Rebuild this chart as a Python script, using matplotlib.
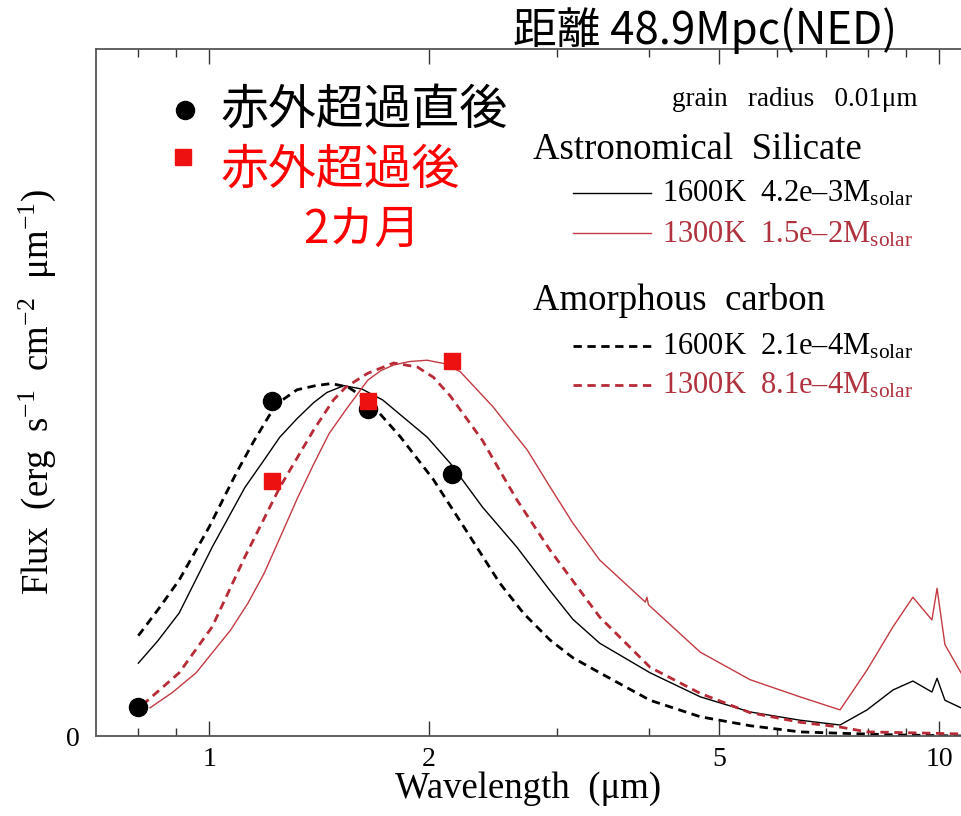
import matplotlib
matplotlib.use("Agg")
import matplotlib.pyplot as plt
from matplotlib.lines import Line2D
from matplotlib.ticker import FixedLocator, NullFormatter, FixedFormatter

plt.rcParams['font.family'] = ['Liberation Serif', 'DejaVu Sans']
plt.rcParams['mathtext.fontset'] = 'custom'
plt.rcParams['mathtext.rm'] = 'Liberation Serif'
plt.rcParams['mathtext.it'] = 'Liberation Serif:italic'

# ---- model curves (wavelength in micron, flux in arbitrary units) ----
wl_c1600 = [0.80, 0.85, 0.91, 1.00, 1.09, 1.15, 1.21, 1.26, 1.32, 1.40, 1.47, 1.55, 1.65,
            1.83, 2.03, 2.26, 2.50, 2.70, 2.93, 3.15, 3.43, 4.02, 4.71, 5.51, 6.45, 7.32,
            8.84, 10.72]
f_c1600 = [1.46, 1.83, 2.27, 3.04, 3.83, 4.28, 4.67, 4.89, 5.04, 5.10, 5.13, 5.08, 4.89,
           4.35, 3.73, 2.96, 2.23, 1.78, 1.40, 1.14, 0.92, 0.52, 0.28, 0.15, 0.06, 0.04,
           0.015, 0.0]

wl_s1600 = [0.80, 0.85, 0.91, 1.01, 1.12, 1.19, 1.25, 1.32, 1.39, 1.45, 1.53, 1.62, 1.73,
            1.99, 2.14, 2.37, 2.64, 2.93, 3.15, 3.43, 4.02, 4.71, 5.51, 6.45, 7.32, 7.97,
            8.65, 9.21, 9.78, 9.94, 10.19, 10.72]
f_s1600 = [1.06, 1.38, 1.79, 2.75, 3.62, 4.02, 4.35, 4.62, 4.85, 5.00, 5.10, 5.05, 4.89,
           4.35, 3.97, 3.33, 2.75, 2.12, 1.70, 1.35, 0.92, 0.57, 0.35, 0.23, 0.16, 0.38,
           0.67, 0.80, 0.64, 0.84, 0.52, 0.41]

wl_c1300 = [0.81, 0.91, 1.01, 1.12, 1.25, 1.39, 1.48, 1.54, 1.65, 1.79, 1.93, 2.03, 2.14,
            2.37, 2.50, 2.64, 2.93, 3.43, 4.02, 4.71, 5.51, 6.45, 7.32, 7.97, 9.81, 10.72]
f_c1300 = [0.45, 0.92, 1.59, 2.61, 3.62, 4.45, 4.89, 5.08, 5.28, 5.43, 5.37, 5.22, 4.95,
           4.30, 3.87, 3.44, 2.71, 1.73, 1.00, 0.62, 0.34, 0.20, 0.13, 0.06, 0.04, 0.03]

wl_s1300 = [0.83, 0.89, 0.96, 1.07, 1.13, 1.19, 1.25, 1.32, 1.39, 1.46, 1.54, 1.65, 1.72,
            1.79, 1.88, 1.99, 2.10, 2.21, 2.45, 2.50, 2.73, 2.93, 3.15, 3.43, 3.96, 3.98,
            4.00, 4.71, 5.51, 6.45, 7.32, 7.97, 8.65, 9.21, 9.78, 9.94, 10.19, 10.72]
f_s1300 = [0.41, 0.63, 0.92, 1.54, 1.93, 2.37, 2.88, 3.45, 3.95, 4.40, 4.75, 5.18, 5.32,
           5.40, 5.45, 5.47, 5.42, 5.30, 4.79, 4.67, 4.16, 3.63, 3.10, 2.56, 1.95, 2.02,
           1.91, 1.22, 0.82, 0.57, 0.38, 0.96, 1.59, 2.02, 1.69, 2.15, 1.33, 0.92]

# ---- observations ----
wl_early = [0.80, 1.22, 1.65, 2.15]
f_early = [0.42, 4.88, 4.76, 3.81]
wl_2mo = [1.22, 1.65, 2.15]
f_2mo = [3.71, 4.88, 5.46]

# ---- axis ticks ----
major_ticks = [1, 2, 5, 10]
major_labels = ['1', '2', '5', '10']
minor_ticks = [0.8, 0.9, 3, 4, 6, 7, 8, 9]

RED_S = '#c43a42'
RED_D = '#b82a36'
LEGRED = '#b0323e'

W, H = 961, 816
fig = plt.figure(figsize=(W / 100, H / 100), dpi=100)
ax = fig.add_axes([96 / W, 80 / H, (W - 96) / W, (736 - 49) / H])

ax.plot(wl_s1600, f_s1600, color='black', lw=1.0)
ax.plot(wl_s1300, f_s1300, color=RED_S, lw=1.0)
ax.plot(wl_c1600, f_c1600, color='black', lw=2.0, dashes=(3, 2))
ax.plot(wl_c1300, f_c1300, color=RED_D, lw=2.0, dashes=(3, 2))

ax.plot(wl_early, f_early, 'o', color='black', ms=13, ls='none', zorder=5)
ax.plot(wl_2mo, f_2mo, 's', color='#ee1111', ms=12, ls='none', zorder=6)

ax.set_xscale('log')
ax.set_xlim(0.70, 10.72)
ax.set_ylim(0, 10)

ax.xaxis.set_major_locator(FixedLocator(major_ticks))
ax.xaxis.set_major_formatter(FixedFormatter(major_labels))
ax.xaxis.set_minor_locator(FixedLocator(minor_ticks))
ax.xaxis.set_minor_formatter(NullFormatter())
ax.tick_params(axis='x', which='major', direction='in', length=11, width=1.0,
               top=True, labelsize=20, pad=8, color='#333333')
ax.tick_params(axis='x', which='minor', direction='in', length=6, width=1.0,
               top=True, color='#333333')
ax.set_yticks([0])
ax.set_yticklabels(['0'])
ax.tick_params(axis='y', length=0, labelsize=20, pad=12)

for s in ['left', 'bottom', 'top']:
    ax.spines[s].set_color('#555555')
    ax.spines[s].set_linewidth(1.3)
ax.spines['right'].set_visible(False)

ax.set_xlabel('Wavelength  (μm)', fontsize=26.5)
ax.set_ylabel(r'Flux  (erg  s$^{-1}$  cm$^{-2}$  μm$^{-1}$)', fontsize=26.5)
ax.xaxis.set_label_coords(0.5, -0.052)
ax.yaxis.set_label_coords(-0.044, 0.5)

def fx(px):
    return px / W

def fy(py):
    return 1 - py / H

cjk = ['Noto Sans CJK JP', 'DejaVu Sans']

# ---- top title ----
fig.text(fx(513), fy(31), '距離 48.9Mpc(NED)', fontsize=31.5, va='center', ha='left',
         family=cjk)

# ---- marker legend (Japanese) ----
fig.add_artist(Line2D([fx(185)], [fy(110)], marker='o', color='black', ms=13, ls='none'))
fig.add_artist(Line2D([fx(183)], [fy(157)], marker='s', color='#ee1111', ms=11, ls='none'))
fig.text(fx(220), fy(110), '赤外超過直後', fontsize=34.5, va='center', ha='left', family=cjk,
         color='black')
fig.text(fx(220), fy(170), '赤外超過後', fontsize=34.5, va='center', ha='left', family=cjk,
         color='#ff0000')
fig.text(fx(362), fy(230), '2カ月', fontsize=33, va='center', ha='center', family=cjk,
         color='#ff0000')

# ---- model legend ----
fig.text(fx(672), fy(100), 'grain   radius   0.01μm', fontsize=19.5, va='center', ha='left')
fig.text(fx(533), fy(150), 'Astronomical  Silicate', fontsize=26.5, va='center', ha='left')
fig.text(fx(533), fy(300), 'Amorphous  carbon', fontsize=26.5, va='center', ha='left')

fig.add_artist(Line2D([fx(573), fx(651)], [fy(193), fy(193)], color='black', lw=1.0))
fig.add_artist(Line2D([fx(573), fx(651)], [fy(233), fy(233)], color=RED_S, lw=1.0))
fig.add_artist(Line2D([fx(573), fx(651)], [fy(346), fy(346)], color='black', lw=2.0,
                      dashes=(3, 2)))
fig.add_artist(Line2D([fx(573), fx(651)], [fy(385), fy(385)], color=RED_D, lw=2.0,
                      dashes=(3, 2)))

fig.text(fx(662), fy(194), r'1600K  4.2e–3M$_{\mathrm{solar}}$', fontsize=22,
         va='center', ha='left', color='black')
fig.text(fx(662), fy(235), r'1300K  1.5e–2M$_{\mathrm{solar}}$', fontsize=22,
         va='center', ha='left', color=LEGRED)
fig.text(fx(662), fy(347), r'1600K  2.1e–4M$_{\mathrm{solar}}$', fontsize=22,
         va='center', ha='left', color='black')
fig.text(fx(662), fy(386), r'1300K  8.1e–4M$_{\mathrm{solar}}$', fontsize=22,
         va='center', ha='left', color=LEGRED)

fig.savefig('out.png', dpi=100)
